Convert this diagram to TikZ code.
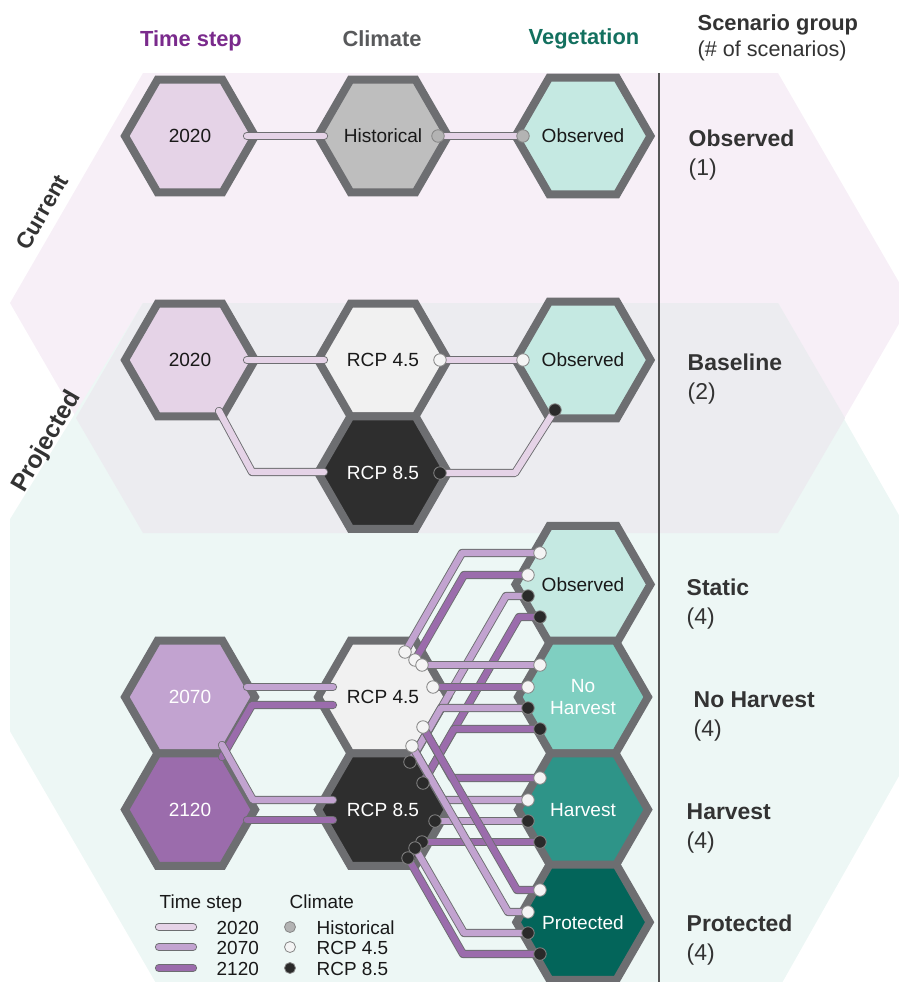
\documentclass[tikz,border=0pt]{standalone}
\usepackage{fontspec}
\setmainfont{Liberation Sans}
\usetikzlibrary{shapes.geometric}
\definecolor{bgPink}{HTML}{F7EFF7}
\definecolor{bgGrey}{HTML}{ECECF0}
\definecolor{bgTeal}{HTML}{EDF7F5}
\definecolor{hexBorder}{HTML}{6D6E71}
\definecolor{cTa}{HTML}{E5D3E7}
\definecolor{cTb}{HTML}{C2A3D0}
\definecolor{cTc}{HTML}{9B6CAC}
\definecolor{cHist}{HTML}{BEBEBE}
\definecolor{cRa}{HTML}{F1F1F1}
\definecolor{cRb}{HTML}{2E2E2E}
\definecolor{cObs}{HTML}{C5E9E2}
\definecolor{cNoH}{HTML}{7FCFC1}
\definecolor{cHarv}{HTML}{2E9488}
\definecolor{cProt}{HTML}{03655A}
\definecolor{txtPurple}{HTML}{7A2A8C}
\definecolor{txtGrey}{HTML}{58595B}
\definecolor{txtTeal}{HTML}{13705F}
\definecolor{txtDark}{HTML}{333333}
\definecolor{dotHist}{HTML}{B3B3B3}
\definecolor{dotRa}{HTML}{F4F4F4}
\definecolor{dotRb}{HTML}{2A2A2A}
\definecolor{dotEdge}{HTML}{858585}
\definecolor{sepGrey}{HTML}{555555}
\newcommand\hexfont{\fontsize{14.3}{15.8}\selectfont}
\newcommand\headfont{\bfseries\fontsize{16.4}{19}\selectfont}
\newcommand\grpfont{\fontsize{17.2}{20}\selectfont}
\newcommand\legfont{\fontsize{14.2}{16}\selectfont}
\begin{document}
\begin{tikzpicture}[x=0.75pt,y=-0.75pt,
  hexnode/.style={regular polygon, regular polygon sides=6, minimum size=130*0.75pt,
    inner sep=0pt, draw=hexBorder, line width=8*0.75pt, font=\hexfont, align=center, text=black!90},
  conn/.style={line width=0.9*0.75pt, draw=hexBorder, double=#1, double distance=6.4*0.75pt,
    line cap=round, line join=round},
  dotn/.style={circle, inner sep=0pt, minimum size=12.5*0.75pt, draw=dotEdge, line width=0.8*0.75pt, fill=#1},
  legdot/.style={circle, inner sep=0pt, minimum size=11*0.75pt, draw=dotEdge, line width=0.8*0.75pt, fill=#1},
  head/.style={anchor=base, font=\headfont},
  grp/.style={anchor=base west, font=\grpfont, text=txtDark},
  leg/.style={anchor=base west, font=\legfont, text=black!90},
  side/.style={rotate=60, font=\bfseries\fontsize{17}{19}\selectfont, text=txtDark}]
\useasboundingbox (0,0) rectangle (899,982);
\clip (0,0) rectangle (899,982);
% backgrounds
\begin{scope}
\clip (10,0) rectangle (899,982);
\fill[bgPink] (143,73) -- (778,73) -- (911,303) -- (778,533) -- (143,533) -- (10,303) -- cycle;
\fill[bgTeal] (143,303) -- (778,303) -- (973,645) -- (778,990) -- (160,990) -- (-40,645) -- (-52,620) -- cycle;
\fill[bgGrey] (143,303) -- (778,303) -- (845,418) -- (778,533) -- (143,533) -- (76,418) -- cycle;
\end{scope}
\coordinate (sepTop) at (659,73);
\coordinate (sepBot) at (659,982);
\draw[line width=1.6*0.75pt, sepGrey] (sepTop) -- (sepBot);
% headers
\node[head, text=txtPurple] (hdTime) at (191,46) {Time step};
\node[head, text=txtGrey] (hdClim) at (382,46) {Climate};
\node[head, text=txtTeal] (hdVeg) at (584,44) {Vegetation};
\node[grp, font=\headfont] (hdGrp) at (693,30) {Scenario group};
\node[grp, font=\fontsize{16.2}{19}\selectfont] (hdNum) at (693,56) {(\# of scenarios)};
% side labels
\node[side] (lblCur) at (42,212) {Current};
\node[side, font=\bfseries\fontsize{18.5}{20}\selectfont] (lblProj) at (47,442) {Projected};
% hexagons row 1
\node[hexnode, fill=cTa] (tA) at (190,136) {2020};
\node[hexnode, fill=cHist] (cHistH) at (383,136) {Historical};
\node[hexnode, fill=cObs] (vA) at (583,136) {Observed};
% row 2
\node[hexnode, fill=cTa] (tB) at (190,360) {2020};
\node[hexnode, fill=cRa] (cB45) at (383,360) {RCP 4.5};
\node[hexnode, fill=cRb, text=white] (cB85) at (383,472.6) {RCP 8.5};
\node[hexnode, fill=cObs] (vB) at (583,360) {Observed};
% lower
\node[hexnode, fill=cTb, text=white] (tC) at (190,697) {2070};
\node[hexnode, fill=cTc, text=white] (tD) at (190,809.6) {2120};
\node[hexnode, fill=cRa] (cC45) at (383,697) {RCP 4.5};
\node[hexnode, fill=cRb, text=white] (cC85) at (383,809.6) {RCP 8.5};
\node[hexnode, fill=cObs] (vObs) at (583,584.4) {Observed};
\node[hexnode, fill=cNoH, text=white] (vNoH) at (583,697) {No\\Harvest};
\node[hexnode, fill=cHarv, text=white] (vHarv) at (583,809.6) {Harvest};
\node[hexnode, fill=cProt, text=white] (vProt) at (583,922.2) {Protected};
% group labels
\node[grp, font=\bfseries\grpfont] (gObs) at (684,146) {Observed};
\node[grp] (gObsN) at (684,175) {(1)};
\node[grp, font=\bfseries\grpfont] (gBase) at (683,370) {Baseline};
\node[grp] (gBaseN) at (683,399) {(2)};
\node[grp, font=\bfseries\grpfont] (gStat) at (682,595) {Static};
\node[grp] (gStatN) at (682,624) {(4)};
\node[grp, font=\bfseries\grpfont] (gNoH) at (689,707) {No Harvest};
\node[grp] (gNoHN) at (689,736) {(4)};
\node[grp, font=\bfseries\grpfont] (gHarv) at (682,819) {Harvest};
\node[grp] (gHarvN) at (682,848) {(4)};
\node[grp, font=\bfseries\grpfont] (gProt) at (682,931) {Protected};
\node[grp] (gProtN) at (682,960) {(4)};
% ---- connectors row 1
\coordinate (tAr) at (247,136); \coordinate (hiL) at (324,136);
\coordinate (hiR) at (438,136); \coordinate (vAl) at (523,136);
\draw[conn=cTa] (tAr) -- (hiL);
\draw[conn=cTa] (hiR) -- (vAl);
% row 2
\coordinate (tBr) at (247,360); \coordinate (b45L) at (324,360);
\coordinate (tBd) at (219,411); \coordinate (b85L) at (324,472);
\coordinate (b45R) at (440,360); \coordinate (vBl) at (523,360);
\coordinate (b85R) at (440,473); \coordinate (vBd) at (555,410);
\draw[conn=cTa] (tBr) -- (b45L);
\draw[conn=cTa] (tBd) -- (252,472) -- (b85L);
\draw[conn=cTa] (b45R) -- (vBl);
\draw[conn=cTa] (b85R) -- (515,473) -- (vBd);
% lower left
\coordinate (tCa) at (247,687); \coordinate (c45a) at (333,687);
\coordinate (tDa) at (222,757); \coordinate (c45b) at (333,705);
\coordinate (tCb) at (222,745); \coordinate (c85a) at (333,800);
\coordinate (tDb) at (247,820); \coordinate (c85b) at (333,820);
\draw[conn=cTb] (tCa) -- (c45a);
\draw[conn=cTc] (tDa) -- (252,705) -- (c45b);
\draw[conn=cTb] (tCb) -- (253,800) -- (c85a);
\draw[conn=cTc] (tDb) -- (c85b);
% lower right dots
\coordinate (q1) at (405,652); \coordinate (q2) at (415,660);
\coordinate (q3) at (422,665); \coordinate (q4) at (433,687);
\coordinate (q5) at (423,727); \coordinate (q6) at (412,746);
\coordinate (r1) at (410,762); \coordinate (r2) at (423,783);
\coordinate (r3) at (435,821); \coordinate (r4) at (422,842);
\coordinate (r5) at (415,848); \coordinate (r6) at (408,858);
\coordinate (o1) at (540,553); \coordinate (o2) at (528,575);
\coordinate (o3) at (528,596); \coordinate (o4) at (540,617);
\coordinate (n1) at (540,665); \coordinate (n2) at (528,687);
\coordinate (n3) at (528,708); \coordinate (n4) at (540,729);
\coordinate (h1) at (540,778); \coordinate (h2) at (528,800);
\coordinate (h3) at (528,821); \coordinate (h4) at (540,842);
\coordinate (p1) at (540,890); \coordinate (p2) at (528,912);
\coordinate (p3) at (528,933); \coordinate (p4) at (540,954);
\draw[conn=cTb] (q1) -- (462,553) -- (o1);
\draw[conn=cTc] (q2) -- (464,575) -- (o2);
\draw[conn=cTb] (r1) -- (506,596) -- (o3);
\draw[conn=cTc] (r2) -- (519,617) -- (o4);
\draw[conn=cTb] (q3) -- (n1);
\draw[conn=cTc] (q4) -- (n2);
\draw[conn=cTb] (r1) -- (441,708) -- (n3);
\draw[conn=cTc] (r2) -- (454,729) -- (n4);
\draw[conn=cTc] (q5) -- (452,778) -- (h1);
\draw[conn=cTb] (q6) -- (443,800) -- (h2);
\draw[conn=cTb] (r3) -- (h3);
\draw[conn=cTc] (r4) -- (h4);
\draw[conn=cTc] (q5) -- (517,890) -- (p1);
\draw[conn=cTb] (q6) -- (508,912) -- (p2);
\draw[conn=cTb] (r5) -- (464,933) -- (p3);
\draw[conn=cTc] (r6) -- (463,954) -- (p4);
% dots
\node[dotn=dotHist] (dHiR) at (hiR) {};
\node[dotn=dotHist] (dVAl) at (vAl) {};
\node[dotn=dotRa] (dB45R) at (b45R) {};
\node[dotn=dotRa] (dVBl) at (vBl) {};
\node[dotn=dotRb] (dB85R) at (b85R) {};
\node[dotn=dotRb] (dVBd) at (vBd) {};
\foreach \c in {q1,q2,q3,q4,q5,q6,o1,o2,n1,n2,h1,h2,p1,p2} {\node[dotn=dotRa] (d\c) at (\c) {};}
\foreach \c in {r1,r2,r3,r4,r5,r6,o3,o4,n3,n4,h3,h4,p3,p4} {\node[dotn=dotRb] (d\c) at (\c) {};}
% legend
\node[leg] (legT) at (155,908) {Time step};
\node[leg] (legC) at (285,908) {Climate};
\coordinate (la1) at (159,927); \coordinate (la2) at (193,927);
\coordinate (lb1) at (159,947); \coordinate (lb2) at (193,947);
\coordinate (lc1) at (159,968); \coordinate (lc2) at (193,968);
\draw[conn=cTa] (la1) -- (la2);
\draw[conn=cTb] (lb1) -- (lb2);
\draw[conn=cTc] (lc1) -- (lc2);
\node[leg] (lt1) at (212,934) {2020};
\node[leg] (lt2) at (212,954) {2070};
\node[leg] (lt3) at (212,975) {2120};
\node[legdot=dotHist] (ld1) at (290,927) {};
\node[legdot=dotRa] (ld2) at (290,947) {};
\node[legdot=dotRb] (ld3) at (290,968) {};
\node[leg] (lc1t) at (312,934) {Historical};
\node[leg] (lc2t) at (312,954) {RCP 4.5};
\node[leg] (lc3t) at (312,975) {RCP 8.5};
\end{tikzpicture}
\end{document}
